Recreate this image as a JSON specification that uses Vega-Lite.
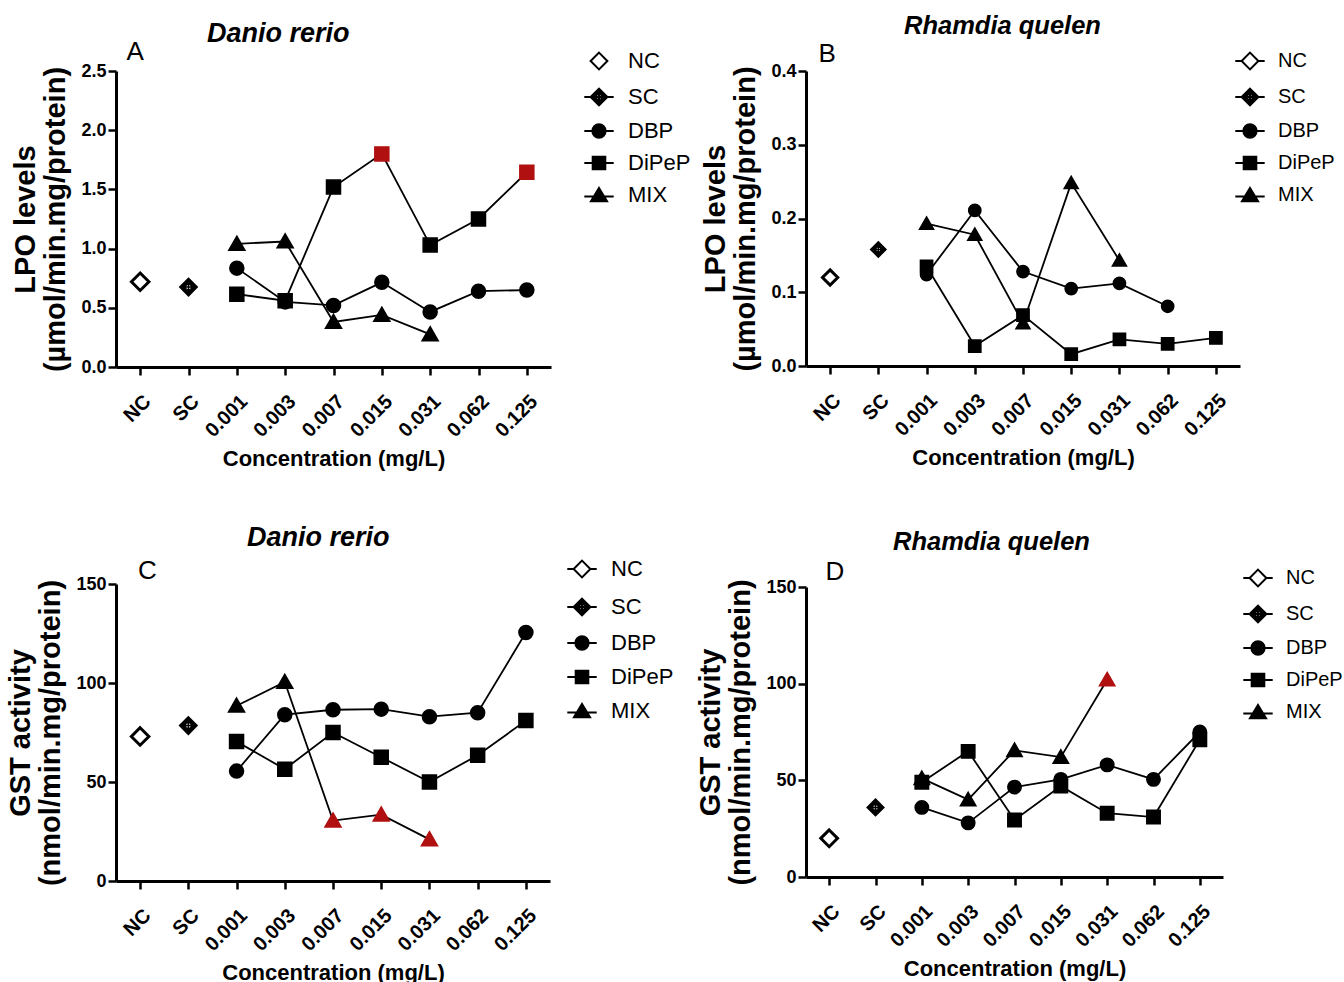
{
  "$schema": "https://vega.github.io/schema/vega-lite/v6.json",
  "background": "white",
  "padding": {"left": 6, "top": 13, "right": 0, "bottom": 0},
  "config": {
    "view": {"stroke": null},
    "font": "Liberation Sans",
    "axis": {"domainColor": "black", "domainWidth": 3, "tickColor": "black", "tickWidth": 2.5, "tickSize": 8, "labelColor": "black", "labelFont": "Liberation Sans", "labelFontWeight": "bold", "labelFontSize": 18, "labelPadding": 2, "labelOverlap": false, "titleFont": "Liberation Sans", "titleFontWeight": "bold", "titleColor": "black", "grid": false},
    "axisX": {"labelAngle": -45, "labelFontSize": 20, "labelPadding": 16, "titleFontSize": 22, "titlePadding": 8},
    "axisY": {"titleFontSize": 29, "titleLineHeight": 30, "titlePadding": 10},
    "legend": {"labelFont": "Liberation Sans", "labelFontSize": 22, "labelColor": "black", "symbolStrokeWidth": 2, "symbolSize": 196, "labelOffset": 18, "rowPadding": 10, "padding": 0},
    "title": {"font": "Liberation Sans", "fontSize": 27, "fontWeight": "bold", "fontStyle": "italic", "color": "black"}
  },
  "datasets": {
    "lpo_dr": [
      {"conc": "NC", "series": "NC", "value": 0.72, "sig": false},
      {"conc": "SC", "series": "SC", "value": 0.675, "sig": false},
      {"conc": "0.001", "series": "DBP", "value": 0.835, "sig": false},
      {"conc": "0.003", "series": "DBP", "value": 0.55, "sig": false},
      {"conc": "0.007", "series": "DBP", "value": 0.52, "sig": false},
      {"conc": "0.015", "series": "DBP", "value": 0.715, "sig": false},
      {"conc": "0.031", "series": "DBP", "value": 0.465, "sig": false},
      {"conc": "0.062", "series": "DBP", "value": 0.64, "sig": false},
      {"conc": "0.125", "series": "DBP", "value": 0.65, "sig": false},
      {"conc": "0.001", "series": "DiPeP", "value": 0.615, "sig": false},
      {"conc": "0.003", "series": "DiPeP", "value": 0.56, "sig": false},
      {"conc": "0.007", "series": "DiPeP", "value": 1.52, "sig": false},
      {"conc": "0.015", "series": "DiPeP", "value": 1.8, "sig": true},
      {"conc": "0.031", "series": "DiPeP", "value": 1.03, "sig": false},
      {"conc": "0.062", "series": "DiPeP", "value": 1.25, "sig": false},
      {"conc": "0.125", "series": "DiPeP", "value": 1.645, "sig": true},
      {"conc": "0.001", "series": "MIX", "value": 1.04, "sig": false},
      {"conc": "0.003", "series": "MIX", "value": 1.06, "sig": false},
      {"conc": "0.007", "series": "MIX", "value": 0.38, "sig": false},
      {"conc": "0.015", "series": "MIX", "value": 0.44, "sig": false},
      {"conc": "0.031", "series": "MIX", "value": 0.275, "sig": false}
    ],
    "lpo_rq": [
      {"conc": "NC", "series": "NC", "value": 0.12, "sig": false},
      {"conc": "SC", "series": "SC", "value": 0.158, "sig": false},
      {"conc": "0.001", "series": "DBP", "value": 0.124, "sig": false},
      {"conc": "0.003", "series": "DBP", "value": 0.211, "sig": false},
      {"conc": "0.007", "series": "DBP", "value": 0.128, "sig": false},
      {"conc": "0.015", "series": "DBP", "value": 0.105, "sig": false},
      {"conc": "0.031", "series": "DBP", "value": 0.112, "sig": false},
      {"conc": "0.062", "series": "DBP", "value": 0.081, "sig": false},
      {"conc": "0.001", "series": "DiPeP", "value": 0.135, "sig": false},
      {"conc": "0.003", "series": "DiPeP", "value": 0.027, "sig": false},
      {"conc": "0.007", "series": "DiPeP", "value": 0.069, "sig": false},
      {"conc": "0.015", "series": "DiPeP", "value": 0.016, "sig": false},
      {"conc": "0.031", "series": "DiPeP", "value": 0.036, "sig": false},
      {"conc": "0.062", "series": "DiPeP", "value": 0.03, "sig": false},
      {"conc": "0.125", "series": "DiPeP", "value": 0.038, "sig": false},
      {"conc": "0.001", "series": "MIX", "value": 0.193, "sig": false},
      {"conc": "0.003", "series": "MIX", "value": 0.178, "sig": false},
      {"conc": "0.007", "series": "MIX", "value": 0.058, "sig": false},
      {"conc": "0.015", "series": "MIX", "value": 0.248, "sig": false},
      {"conc": "0.031", "series": "MIX", "value": 0.143, "sig": false}
    ],
    "gst_dr": [
      {"conc": "NC", "series": "NC", "value": 73, "sig": false},
      {"conc": "SC", "series": "SC", "value": 78.5, "sig": false},
      {"conc": "0.001", "series": "DBP", "value": 55.5, "sig": false},
      {"conc": "0.003", "series": "DBP", "value": 84, "sig": false},
      {"conc": "0.007", "series": "DBP", "value": 86.5, "sig": false},
      {"conc": "0.015", "series": "DBP", "value": 86.8, "sig": false},
      {"conc": "0.031", "series": "DBP", "value": 83, "sig": false},
      {"conc": "0.062", "series": "DBP", "value": 85, "sig": false},
      {"conc": "0.125", "series": "DBP", "value": 125.5, "sig": false},
      {"conc": "0.001", "series": "DiPeP", "value": 70.5, "sig": false},
      {"conc": "0.003", "series": "DiPeP", "value": 56.5, "sig": false},
      {"conc": "0.007", "series": "DiPeP", "value": 75, "sig": false},
      {"conc": "0.015", "series": "DiPeP", "value": 62.5, "sig": false},
      {"conc": "0.031", "series": "DiPeP", "value": 50, "sig": false},
      {"conc": "0.062", "series": "DiPeP", "value": 63.5, "sig": false},
      {"conc": "0.125", "series": "DiPeP", "value": 81, "sig": false},
      {"conc": "0.001", "series": "MIX", "value": 88.5, "sig": false},
      {"conc": "0.003", "series": "MIX", "value": 100.5, "sig": false},
      {"conc": "0.007", "series": "MIX", "value": 30.5, "sig": true},
      {"conc": "0.015", "series": "MIX", "value": 33.5, "sig": true},
      {"conc": "0.031", "series": "MIX", "value": 21, "sig": true}
    ],
    "gst_rq": [
      {"conc": "NC", "series": "NC", "value": 20, "sig": false},
      {"conc": "SC", "series": "SC", "value": 36, "sig": false},
      {"conc": "0.001", "series": "DBP", "value": 36, "sig": false},
      {"conc": "0.003", "series": "DBP", "value": 28, "sig": false},
      {"conc": "0.007", "series": "DBP", "value": 46.5, "sig": false},
      {"conc": "0.015", "series": "DBP", "value": 50.5, "sig": false},
      {"conc": "0.031", "series": "DBP", "value": 58, "sig": false},
      {"conc": "0.062", "series": "DBP", "value": 50.5, "sig": false},
      {"conc": "0.125", "series": "DBP", "value": 75, "sig": false},
      {"conc": "0.001", "series": "DiPeP", "value": 49, "sig": false},
      {"conc": "0.003", "series": "DiPeP", "value": 65, "sig": false},
      {"conc": "0.007", "series": "DiPeP", "value": 29.5, "sig": false},
      {"conc": "0.015", "series": "DiPeP", "value": 47, "sig": false},
      {"conc": "0.031", "series": "DiPeP", "value": 33, "sig": false},
      {"conc": "0.062", "series": "DiPeP", "value": 31, "sig": false},
      {"conc": "0.125", "series": "DiPeP", "value": 71, "sig": false},
      {"conc": "0.001", "series": "MIX", "value": 51, "sig": false},
      {"conc": "0.003", "series": "MIX", "value": 40, "sig": false},
      {"conc": "0.007", "series": "MIX", "value": 65.5, "sig": false},
      {"conc": "0.015", "series": "MIX", "value": 62, "sig": false},
      {"conc": "0.031", "series": "MIX", "value": 102, "sig": true}
    ]
  },
  "columns": 2,
  "align": "none",
  "spacing": 5,
  "concat": [
    {
      "spacing": 54,
      "vconcat": [
        {
          "title": {"text": "A", "anchor": "start", "frame": "bounds", "fontStyle": "normal", "fontWeight": "normal", "fontSize": 26, "dx": 114.5, "offset": -44.5},
          "vconcat": [
            {
              "width": 435, "height": 296,
              "title": {"text": "Danio rerio", "anchor": "start", "frame": "bounds", "dx": 195, "offset": 2},
              "data": {"name": "lpo_dr"},
              "encoding": {
                "x": {"field": "conc", "type": "ordinal", "scale": {"type": "point", "domain": ["NC", "SC", "0.001", "0.003", "0.007", "0.015", "0.031", "0.062", "0.125"], "padding": 0.5}, "axis": {"title": "Concentration (mg/L)"}},
                "y": {"field": "value", "type": "quantitative", "scale": {"domain": [0, 2.5], "nice": false}, "axis": {"title": ["LPO levels", "(µmol/min.mg/protein)"], "values": [0, 0.5, 1, 1.5, 2, 2.5], "format": ".1f"}}
              },
              "layer": [
                {"transform": [{"filter": "datum.series != 'NC' && datum.series != 'SC'"}], "mark": {"type": "line", "color": "black", "strokeWidth": 1.8}, "encoding": {"detail": {"field": "series", "type": "nominal"}}},
                {"mark": {"type": "point", "size": 196, "opacity": 1},
                 "encoding": {
                   "shape": {"field": "series", "type": "nominal", "scale": {"domain": ["NC", "SC", "DBP", "DiPeP", "MIX"], "range": ["M0,-1.25L1.25,0L0,1.25L-1.25,0Z", "M0,-1.25L1.25,0L0,1.25L-1.25,0Z M0.45,0A0.45,0.45 0 0,0 -0.45,0A0.45,0.45 0 0,0 0.45,0Z M-0.45,0H0.45M0,-0.45V0.45", "M-1,0A1,1 0 1,1 1,0A1,1 0 1,1 -1,0Z", "M-1,-1H1V1H-1Z", "M0,-1.1L1.15,0.9L-1.15,0.9Z"]}, "legend": null},
                   "fill": {"condition": {"test": "datum.sig", "value": "#b01010"}, "field": "series", "type": "nominal", "scale": {"domain": ["NC", "SC", "DBP", "DiPeP", "MIX"], "range": ["white", "black", "black", "black", "black"]}, "legend": null},
                   "stroke": {"condition": {"test": "datum.sig", "value": "#b01010"}, "value": "black"},
                   "strokeWidth": {"condition": {"test": "datum.series == 'NC'", "value": 3}, "value": 1.5}
                 }},
                {"transform": [{"filter": "false"}], "mark": {"type": "point", "size": 196, "opacity": 1},
                 "encoding": {
                   "shape": {"field": "series", "type": "nominal", "scale": {"domain": ["NC", "SC", "DBP", "DiPeP", "MIX"], "range": ["M0,-1.2L1.2,0L0,1.2L-1.2,0Z", "M-2.1,0H-1.2M1.2,0H2.1M0,-1.2L1.2,0L0,1.2L-1.2,0Z M0.45,0A0.45,0.45 0 0,0 -0.45,0A0.45,0.45 0 0,0 0.45,0Z M-0.45,0H0.45M0,-0.45V0.45", "M-2.1,0H2.1M-0.95,0A0.95,0.95 0 1,1 0.95,0A0.95,0.95 0 1,1 -0.95,0Z", "M-2.1,0H2.1M-0.9,-0.9H0.9V0.9H-0.9Z", "M-2.1,0.2H2.1M0,-1L1.15,0.9L-1.15,0.9Z"]}, "legend": {"title": null, "orient": "none", "legendX": 472, "legendY": -21}},
                   "fill": {"field": "series", "type": "nominal", "scale": {"domain": ["NC", "SC", "DBP", "DiPeP", "MIX"], "range": ["white", "black", "black", "black", "black"]}},
                   "stroke": {"value": "black"},
                   "strokeWidth": {"value": 2}
                 }}
              ],
              "resolve": {"scale": {"shape": "independent", "fill": "independent"}}
            }
          ]
        },
        {
          "title": {"text": "C", "anchor": "start", "frame": "bounds", "fontStyle": "normal", "fontWeight": "normal", "fontSize": 26, "dx": 131, "offset": -59.5},
          "vconcat": [
            {
              "width": 434, "height": 297,
              "title": {"text": "Danio rerio", "anchor": "start", "frame": "bounds", "dx": 240, "offset": 6},
              "data": {"name": "gst_dr"},
              "encoding": {
                "x": {"field": "conc", "type": "ordinal", "scale": {"type": "point", "domain": ["NC", "SC", "0.001", "0.003", "0.007", "0.015", "0.031", "0.062", "0.125"], "padding": 0.5}, "axis": {"title": "Concentration (mg/L)"}},
                "y": {"field": "value", "type": "quantitative", "scale": {"domain": [0, 150], "nice": false}, "axis": {"title": ["GST activity", "(nmol/min.mg/protein)"], "values": [0, 50, 100, 150]}}
              },
              "layer": [
                {"transform": [{"filter": "datum.series != 'NC' && datum.series != 'SC'"}], "mark": {"type": "line", "color": "black", "strokeWidth": 1.8}, "encoding": {"detail": {"field": "series", "type": "nominal"}}},
                {"mark": {"type": "point", "size": 196, "opacity": 1},
                 "encoding": {
                   "shape": {"field": "series", "type": "nominal", "scale": {"domain": ["NC", "SC", "DBP", "DiPeP", "MIX"], "range": ["M0,-1.25L1.25,0L0,1.25L-1.25,0Z", "M0,-1.25L1.25,0L0,1.25L-1.25,0Z M0.45,0A0.45,0.45 0 0,0 -0.45,0A0.45,0.45 0 0,0 0.45,0Z M-0.45,0H0.45M0,-0.45V0.45", "M-1,0A1,1 0 1,1 1,0A1,1 0 1,1 -1,0Z", "M-1,-1H1V1H-1Z", "M0,-1.1L1.15,0.9L-1.15,0.9Z"]}, "legend": null},
                   "fill": {"condition": {"test": "datum.sig", "value": "#b01010"}, "field": "series", "type": "nominal", "scale": {"domain": ["NC", "SC", "DBP", "DiPeP", "MIX"], "range": ["white", "black", "black", "black", "black"]}, "legend": null},
                   "stroke": {"condition": {"test": "datum.sig", "value": "#b01010"}, "value": "black"},
                   "strokeWidth": {"condition": {"test": "datum.series == 'NC'", "value": 3}, "value": 1.5}
                 }},
                {"transform": [{"filter": "false"}], "mark": {"type": "point", "size": 196, "opacity": 1},
                 "encoding": {
                   "shape": {"field": "series", "type": "nominal", "scale": {"domain": ["NC", "SC", "DBP", "DiPeP", "MIX"], "range": ["M-2.1,0H-1.2M1.2,0H2.1M0,-1.2L1.2,0L0,1.2L-1.2,0Z", "M-2.1,0H-1.2M1.2,0H2.1M0,-1.2L1.2,0L0,1.2L-1.2,0Z M0.45,0A0.45,0.45 0 0,0 -0.45,0A0.45,0.45 0 0,0 0.45,0Z M-0.45,0H0.45M0,-0.45V0.45", "M-2.1,0H2.1M-0.95,0A0.95,0.95 0 1,1 0.95,0A0.95,0.95 0 1,1 -0.95,0Z", "M-2.1,0H2.1M-0.9,-0.9H0.9V0.9H-0.9Z", "M-2.1,0.2H2.1M0,-1L1.15,0.9L-1.15,0.9Z"]}, "legend": {"title": null, "orient": "none", "legendX": 455, "legendY": -26, "rowPadding": 12}},
                   "fill": {"field": "series", "type": "nominal", "scale": {"domain": ["NC", "SC", "DBP", "DiPeP", "MIX"], "range": ["white", "black", "black", "black", "black"]}},
                   "stroke": {"value": "black"},
                   "strokeWidth": {"value": 2}
                 }}
              ],
              "resolve": {"scale": {"shape": "independent", "fill": "independent"}}
            }
          ]
        }
      ]
    },
    {
      "spacing": 60,
      "vconcat": [
        {
          "title": {"text": "B", "anchor": "start", "frame": "bounds", "fontStyle": "normal", "fontWeight": "normal", "fontSize": 26, "dx": 116.5, "offset": -53.5},
          "vconcat": [
            {
              "width": 434, "height": 295,
              "title": {"text": "Rhamdia quelen", "anchor": "start", "frame": "bounds", "fontSize": 25.5, "dx": 202, "offset": 12},
              "data": {"name": "lpo_rq"},
              "encoding": {
                "x": {"field": "conc", "type": "ordinal", "scale": {"type": "point", "domain": ["NC", "SC", "0.001", "0.003", "0.007", "0.015", "0.031", "0.062", "0.125"], "padding": 0.5}, "axis": {"title": "Concentration (mg/L)"}},
                "y": {"field": "value", "type": "quantitative", "scale": {"domain": [0, 0.4], "nice": false}, "axis": {"title": ["LPO levels", "(µmol/min.mg/protein)"], "values": [0, 0.1, 0.2, 0.3, 0.4], "format": ".1f"}}
              },
              "layer": [
                {"transform": [{"filter": "datum.series != 'NC' && datum.series != 'SC'"}], "mark": {"type": "line", "color": "black", "strokeWidth": 1.8}, "encoding": {"detail": {"field": "series", "type": "nominal"}}},
                {"mark": {"type": "point", "size": 150, "opacity": 1},
                 "encoding": {
                   "shape": {"field": "series", "type": "nominal", "scale": {"domain": ["NC", "SC", "DBP", "DiPeP", "MIX"], "range": ["M0,-1.25L1.25,0L0,1.25L-1.25,0Z", "M0,-1.25L1.25,0L0,1.25L-1.25,0Z M0.45,0A0.45,0.45 0 0,0 -0.45,0A0.45,0.45 0 0,0 0.45,0Z M-0.45,0H0.45M0,-0.45V0.45", "M-1,0A1,1 0 1,1 1,0A1,1 0 1,1 -1,0Z", "M-1,-1H1V1H-1Z", "M0,-1.1L1.15,0.9L-1.15,0.9Z"]}, "legend": null},
                   "fill": {"condition": {"test": "datum.sig", "value": "#b01010"}, "field": "series", "type": "nominal", "scale": {"domain": ["NC", "SC", "DBP", "DiPeP", "MIX"], "range": ["white", "black", "black", "black", "black"]}, "legend": null},
                   "stroke": {"condition": {"test": "datum.sig", "value": "#b01010"}, "value": "black"},
                   "strokeWidth": {"condition": {"test": "datum.series == 'NC'", "value": 3}, "value": 1.5}
                 }},
                {"transform": [{"filter": "false"}], "mark": {"type": "point", "size": 196, "opacity": 1},
                 "encoding": {
                   "shape": {"field": "series", "type": "nominal", "scale": {"domain": ["NC", "SC", "DBP", "DiPeP", "MIX"], "range": ["M-2.1,0H-1.2M1.2,0H2.1M0,-1.2L1.2,0L0,1.2L-1.2,0Z", "M-2.1,0H-1.2M1.2,0H2.1M0,-1.2L1.2,0L0,1.2L-1.2,0Z M0.45,0A0.45,0.45 0 0,0 -0.45,0A0.45,0.45 0 0,0 0.45,0Z M-0.45,0H0.45M0,-0.45V0.45", "M-2.1,0H2.1M-0.95,0A0.95,0.95 0 1,1 0.95,0A0.95,0.95 0 1,1 -0.95,0Z", "M-2.1,0H2.1M-0.9,-0.9H0.9V0.9H-0.9Z", "M-2.1,0.2H2.1M0,-1L1.15,0.9L-1.15,0.9Z"]}, "legend": {"title": null, "orient": "none", "legendX": 434, "legendY": -20, "labelFontSize": 20}},
                   "fill": {"field": "series", "type": "nominal", "scale": {"domain": ["NC", "SC", "DBP", "DiPeP", "MIX"], "range": ["white", "black", "black", "black", "black"]}},
                   "stroke": {"value": "black"},
                   "strokeWidth": {"value": 2}
                 }}
              ],
              "resolve": {"scale": {"shape": "independent", "fill": "independent"}}
            }
          ]
        },
        {
          "title": {"text": "D", "anchor": "start", "frame": "bounds", "fontStyle": "normal", "fontWeight": "normal", "fontSize": 26, "dx": 128.5, "offset": -55.5},
          "vconcat": [
            {
              "width": 417, "height": 290,
              "title": {"text": "Rhamdia quelen", "anchor": "start", "frame": "bounds", "fontSize": 25.5, "dx": 196, "offset": 13},
              "data": {"name": "gst_rq"},
              "encoding": {
                "x": {"field": "conc", "type": "ordinal", "scale": {"type": "point", "domain": ["NC", "SC", "0.001", "0.003", "0.007", "0.015", "0.031", "0.062", "0.125"], "padding": 0.5}, "axis": {"title": "Concentration (mg/L)"}},
                "y": {"field": "value", "type": "quantitative", "scale": {"domain": [0, 150], "nice": false}, "axis": {"title": ["GST activity", "(nmol/min.mg/protein)"], "values": [0, 50, 100, 150]}}
              },
              "layer": [
                {"transform": [{"filter": "datum.series != 'NC' && datum.series != 'SC'"}], "mark": {"type": "line", "color": "black", "strokeWidth": 1.8}, "encoding": {"detail": {"field": "series", "type": "nominal"}}},
                {"mark": {"type": "point", "size": 180, "opacity": 1},
                 "encoding": {
                   "shape": {"field": "series", "type": "nominal", "scale": {"domain": ["NC", "SC", "DBP", "DiPeP", "MIX"], "range": ["M0,-1.25L1.25,0L0,1.25L-1.25,0Z", "M0,-1.25L1.25,0L0,1.25L-1.25,0Z M0.45,0A0.45,0.45 0 0,0 -0.45,0A0.45,0.45 0 0,0 0.45,0Z M-0.45,0H0.45M0,-0.45V0.45", "M-1,0A1,1 0 1,1 1,0A1,1 0 1,1 -1,0Z", "M-1,-1H1V1H-1Z", "M0,-1.1L1.15,0.9L-1.15,0.9Z"]}, "legend": null},
                   "fill": {"condition": {"test": "datum.sig", "value": "#b01010"}, "field": "series", "type": "nominal", "scale": {"domain": ["NC", "SC", "DBP", "DiPeP", "MIX"], "range": ["white", "black", "black", "black", "black"]}, "legend": null},
                   "stroke": {"condition": {"test": "datum.sig", "value": "#b01010"}, "value": "black"},
                   "strokeWidth": {"condition": {"test": "datum.series == 'NC'", "value": 3}, "value": 1.5}
                 }},
                {"transform": [{"filter": "false"}], "mark": {"type": "point", "size": 196, "opacity": 1},
                 "encoding": {
                   "shape": {"field": "series", "type": "nominal", "scale": {"domain": ["NC", "SC", "DBP", "DiPeP", "MIX"], "range": ["M-2.1,0H-1.2M1.2,0H2.1M0,-1.2L1.2,0L0,1.2L-1.2,0Z", "M-2.1,0H-1.2M1.2,0H2.1M0,-1.2L1.2,0L0,1.2L-1.2,0Z M0.45,0A0.45,0.45 0 0,0 -0.45,0A0.45,0.45 0 0,0 0.45,0Z M-0.45,0H0.45M0,-0.45V0.45", "M-2.1,0H2.1M-0.95,0A0.95,0.95 0 1,1 0.95,0A0.95,0.95 0 1,1 -0.95,0Z", "M-2.1,0H2.1M-0.9,-0.9H0.9V0.9H-0.9Z", "M-2.1,0.2H2.1M0,-1L1.15,0.9L-1.15,0.9Z"]}, "legend": {"title": null, "orient": "none", "legendX": 442, "legendY": -19, "labelFontSize": 20}},
                   "fill": {"field": "series", "type": "nominal", "scale": {"domain": ["NC", "SC", "DBP", "DiPeP", "MIX"], "range": ["white", "black", "black", "black", "black"]}},
                   "stroke": {"value": "black"},
                   "strokeWidth": {"value": 2}
                 }}
              ],
              "resolve": {"scale": {"shape": "independent", "fill": "independent"}}
            }
          ]
        }
      ]
    }
  ]
}
